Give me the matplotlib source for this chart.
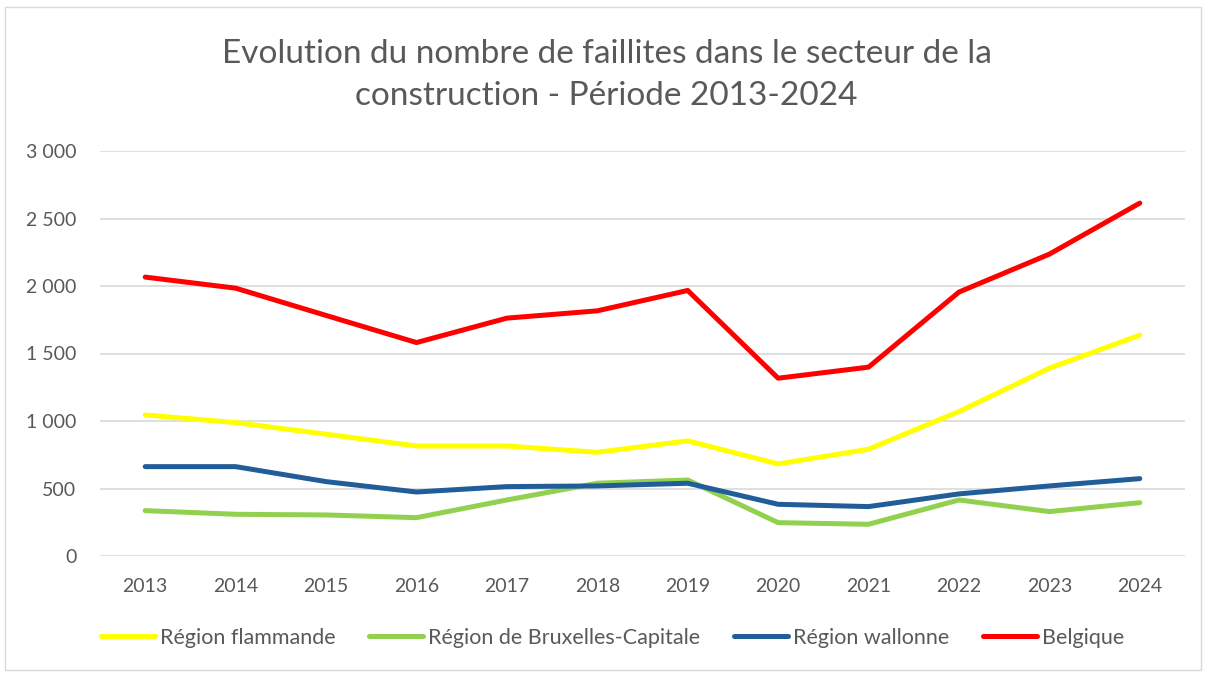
import matplotlib.pyplot as plt
from matplotlib.patches import Rectangle
from matplotlib.ticker import FuncFormatter

# Data
years = ["2013", "2014", "2015", "2016", "2017", "2018",
         "2019", "2020", "2021", "2022", "2023", "2024"]
flandre = [1045, 988, 902, 815, 815, 768, 853, 682, 791, 1070, 1391, 1636]
bruxelles = [336, 309, 304, 284, 415, 539, 563, 247, 235, 415, 329, 395]
wallonie = [662, 662, 551, 474, 514, 519, 539, 383, 366, 460, 519, 573]
belgique = [2066, 1984, 1782, 1581, 1762, 1816, 1967, 1317, 1399, 1955, 2236, 2614]

plt.rcParams['font.family'] = ['Lato', 'DejaVu Sans']
grey = '#595959'

fig = plt.figure(figsize=(12.06, 6.75), dpi=100)
ax = fig.add_axes([100 / 1206, 1 - 556 / 675, 1085 / 1206, 405 / 675])

x = range(len(years))
ax.plot(x, flandre, color='#FFFF00', lw=3.6, label='Région flammande', solid_capstyle='round')
ax.plot(x, bruxelles, color='#92D050', lw=3.6, label='Région de Bruxelles-Capitale', solid_capstyle='round')
ax.plot(x, wallonie, color='#215E99', lw=3.6, label='Région wallonne', solid_capstyle='round')
ax.plot(x, belgique, color='#FF0000', lw=3.6, label='Belgique', solid_capstyle='round')

ax.set_xlim(-0.5, len(years) - 0.5)
ax.set_ylim(0, 3000)
ax.set_yticks(range(0, 3001, 500))
ax.yaxis.set_major_formatter(FuncFormatter(lambda v, p: f"{int(v):,}".replace(",", " ")))
ax.set_xticks(list(x))
ax.set_xticklabels(years)
ax.grid(axis='y', color='#D9D9D9', lw=1.2)
ax.set_axisbelow(True)
for s in ax.spines.values():
    s.set_visible(False)
ax.tick_params(length=0, colors=grey, labelsize=14)
ax.tick_params(axis='y', pad=17)
ax.tick_params(axis='x', pad=16)

fig.text(0.503, 1 - 75 / 675, "Evolution du nombre de faillites dans le secteur de la\nconstruction - Période 2013-2024",
         ha='center', va='center', fontsize=24, color=grey, linespacing=1.5)

fig.legend(loc='center', bbox_to_anchor=(0.508, 1 - 638 / 675), ncol=4, frameon=False,
           fontsize=15.5, handlelength=2.5, handletextpad=0.25, columnspacing=1.55,
           labelcolor=grey)

fig.patches.append(Rectangle((5 / 1206, 5 / 675), 1 - 10 / 1206, 1 - 12 / 675,
                             transform=fig.transFigure, fill=False, edgecolor='#D9D9D9', lw=1))

fig.savefig('out.png', dpi=100)
